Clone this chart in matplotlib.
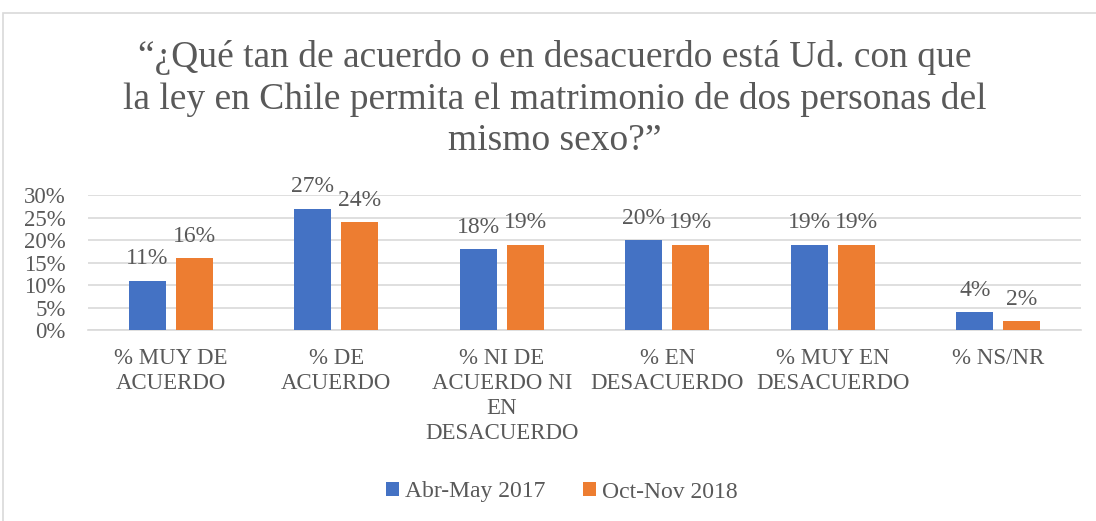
import matplotlib
matplotlib.use("Agg")
import matplotlib.pyplot as plt
from matplotlib.patches import Rectangle
import numpy as np

categories = ["% MUY DE\nACUERDO", "% DE\nACUERDO", "% NI DE\nACUERDO NI\nEN\nDESACUERDO",
              "% EN\nDESACUERDO", "% MUY EN\nDESACUERDO", "% NS/NR"]
series_names = ["Abr-May 2017", "Oct-Nov 2018"]
abr_may_2017 = [0.11, 0.27, 0.18, 0.20, 0.19, 0.04]
oct_nov_2018 = [0.16, 0.24, 0.19, 0.19, 0.19, 0.02]
yticks = [0, 0.05, 0.10, 0.15, 0.20, 0.25, 0.30]
title = "“¿Qué tan de acuerdo o en desacuerdo está Ud. con que\nla ley en Chile permita el matrimonio de dos personas del\nmismo sexo?”"

blue = "#4472C4"
orange = "#ED7D31"
txt = "#595959"
grid = "#D9D9D9"

plt.rcParams['font.family'] = ['Liberation Serif', 'DejaVu Serif']

fig = plt.figure(figsize=(10.96, 5.21), dpi=100)
fig.patches.append(Rectangle((3/1096, -0.1), 1.2, 1 - 13/521 + 0.1, transform=fig.transFigure,
                             fill=False, edgecolor=grid, linewidth=1.2))
ax = fig.add_axes([88/1096, 1 - 330/521, (1081 - 88)/1096, (330 - 195)/521])

x = np.arange(len(categories))
w = 0.224
off = 0.142
b1 = ax.bar(x - off, abr_may_2017, w, color=blue, label=series_names[0], zorder=3)
b2 = ax.bar(x + off, oct_nov_2018, w, color=orange, label=series_names[1], zorder=3)
for bars, vals in ((b1, abr_may_2017), (b2, oct_nov_2018)):
    for r, v in zip(bars, vals):
        ax.annotate(f"{round(v*100):d}%", (r.get_x() + r.get_width()/2, v),
                    xytext=(0, 8), textcoords="offset points", ha="center", va="bottom",
                    fontsize=17, color=txt, annotation_clip=False)

ax.set_xlim(-0.5, len(categories) - 0.5)
ax.set_ylim(0, 0.30)
ax.set_yticks(yticks)
ax.set_yticklabels([f"{round(t*100):d}%" for t in yticks], fontsize=16.5, color=txt)
ax.set_xticks(x)
ax.set_xticklabels(categories, fontsize=16.5, color=txt, linespacing=1.24)
ax.tick_params(axis="y", length=0, pad=16)
ax.tick_params(axis="x", length=0, pad=13)
ax.yaxis.grid(True, color=grid, linewidth=1.2, zorder=0)
ax.set_axisbelow(True)
for s in ax.spines.values():
    s.set_visible(False)
ax.spines['bottom'].set_visible(True)
ax.spines['bottom'].set_color(grid)
ax.spines['bottom'].set_linewidth(1.2)

fig.text(555/1096, 1 - 99/521, title, ha="center", va="center", fontsize=27,
         color=txt, linespacing=1.25)

fig.legend(handles=[b1, b2], loc="center", bbox_to_anchor=(562/1096, 1 - 492/521), ncol=2,
           frameon=False, fontsize=17, handlelength=0.55, handleheight=0.55,
           handletextpad=0.25, columnspacing=1.6, labelcolor=txt)

fig.savefig("out.png", dpi=100)
